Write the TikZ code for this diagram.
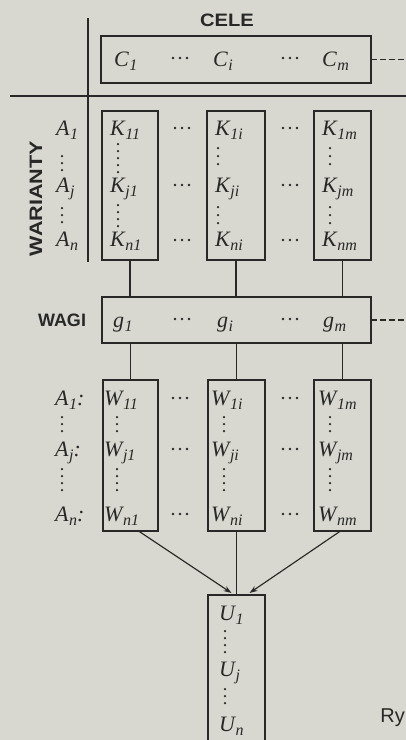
\documentclass[tikz,border=0pt]{standalone}
\usepackage{fontspec}
\usepackage{graphicx}
\setmainfont{Liberation Serif}
\newfontfamily\hfont{Liberation Sans}
\usetikzlibrary{arrows.meta,calc}
\definecolor{bg}{RGB}{216,216,208}
\definecolor{ink}{RGB}{40,40,40}
\newcommand{\ms}[2]{#1\kern0.5pt\raisebox{-4.5pt}{\fontsize{16}{16}\selectfont #2}}
\newcommand{\hdotsat}[2]{\foreach \dx in {-7,0,7}{\fill[ink] ($(#1,#2)+(\dx,0)$) circle (1.35pt);}}
\newcommand{\vdotsat}[2]{\foreach \yy in {#2}{\fill[ink] (#1,\yy) circle (1.25pt);}}
\begin{document}
\begin{tikzpicture}[x=1pt,y=-1pt,
  box/.style={draw=ink, line width=1.25pt, inner sep=0pt, outer sep=0pt},
  lbl/.style={anchor=base west, inner sep=0pt, font=\fontsize{22}{24}\selectfont\itshape, text=ink},
  hd/.style={inner sep=0pt, anchor=base, font=\hfont\bfseries\fontsize{18}{20}\selectfont, text=ink},
  conn/.style={draw=ink, line width=1.15pt},
  arr/.style={conn, -{Stealth[length=8pt,width=5.5pt]}},
  dashline/.style={draw=ink, line width=1.15pt, dash pattern=on 6pt off 3pt}]
\useasboundingbox (0,0) rectangle (406,740);
\fill[bg] (0,0) rectangle (406,740);
\begin{scope}
\clip (0,0) rectangle (406,740);
% frame lines
\coordinate (vt) at (88,18);
\coordinate (vb) at (88,262);
\coordinate (hl) at (10,96);
\coordinate (hr) at (410,96);
\coordinate (re) at (410,0);
\draw[conn] (vt) -- (vb);
\draw[conn] (hl) -- (hr);
% headers
\node[hd] (cele) at (227,26) {\scalebox{1.12}[1]{CELE}};
\node[hd] (wagi) at (62,326) {WAGI};
\node[inner sep=0pt, rotate=90, font=\hfont\bfseries\fontsize{18}{20}\selectfont, text=ink] (war) at (36,198.5) {\scalebox{1.2}[1]{WARIANTY}};
% boxes
\node[box, minimum width=270pt, minimum height=47pt] (C) at (236,59.5) {};
\node[box, minimum width=56pt, minimum height=149pt] (K1) at (130,185.5) {};
\node[box, minimum width=58pt, minimum height=149pt] (K2) at (236,185.5) {};
\node[box, minimum width=57pt, minimum height=149pt] (K3) at (342.5,185.5) {};
\node[box, minimum width=269pt, minimum height=46pt] (g) at (236.5,320) {};
\node[box, minimum width=55pt, minimum height=151pt] (W1) at (130.5,455.5) {};
\node[box, minimum width=57pt, minimum height=151pt] (W2) at (236.5,455.5) {};
\node[box, minimum width=57pt, minimum height=151pt] (W3) at (342.5,455.5) {};
\node[box, minimum width=57pt, minimum height=160pt] (U) at (236.5,675) {};
% dashed ends
\draw[dashline] (C.east) -- (C.east -| re);
\draw[dashline] (g.east) -- (g.east -| re);
% C row
\node[lbl] (c1) at (114,66) {\ms{C}{1}};
\node[lbl] (ci) at (213,66) {\ms{C}{i}};
\node[lbl] (cm) at (322,66) {\ms{C}{m}};
\hdotsat{180}{58}\hdotsat{290}{58}
% K rows
\node[lbl] (a1) at (56,135) {\ms{A}{1}};
\node[lbl] (aj) at (56,192) {\ms{A}{j}};
\node[lbl] (an) at (56,246) {\ms{A}{n}};
\vdotsat{62}{156,163,170}\vdotsat{62}{208,215,222}
\node[lbl] (k11) at (110,135) {\ms{K}{11}};
\node[lbl] (kj1) at (110,192) {\ms{K}{j1}};
\node[lbl] (kn1) at (110,246) {\ms{K}{n1}};
\node[lbl] (k1i) at (215,135) {\ms{K}{1i}};
\node[lbl] (kji) at (215,192) {\ms{K}{ji}};
\node[lbl] (kni) at (215,246) {\ms{K}{ni}};
\node[lbl] (k1m) at (322,135) {\ms{K}{1m}};
\node[lbl] (kjm) at (322,192) {\ms{K}{jm}};
\node[lbl] (knm) at (322,246) {\ms{K}{nm}};
\vdotsat{118}{144,151,158,165,172}\vdotsat{118}{205,212,219,226}
\vdotsat{218}{148,156,164}\vdotsat{218}{207,215,223}
\vdotsat{330}{148,156,164}\vdotsat{330}{207,215,223}
\foreach \yy in {128,185,240}{\hdotsat{182}{\yy}\hdotsat{290}{\yy}}
% connectors K -> g
\draw[conn] (K1.south) -- (K1.south |- g.north);
\draw[conn] (K2.south) -- (K2.south |- g.north);
\draw[conn] (K3.south) -- (K3.south |- g.north);
% g row
\node[lbl] (g1) at (113,327) {\ms{g}{1}};
\node[lbl] (gi) at (217,327) {\ms{g}{i}};
\node[lbl] (gm) at (323,327) {\ms{g}{m}};
\hdotsat{182}{319}\hdotsat{290}{319}
% connectors g -> W
\draw[conn] (W1.north |- g.south) -- (W1.north);
\draw[conn] (W2.north |- g.south) -- (W2.north);
\draw[conn] (W3.north |- g.south) -- (W3.north);
% W rows
\node[lbl] (wa1) at (55,405) {\ms{A}{1}:};
\node[lbl] (waj) at (55,456) {\ms{A}{j}:};
\node[lbl] (wan) at (55,521) {\ms{A}{n}:};
\vdotsat{62}{417,424,431}\vdotsat{62}{469,476,483,490}
\node[lbl] (w11) at (104,405) {\ms{W}{11}};
\node[lbl] (wj1) at (104,456) {\ms{W}{j1}};
\node[lbl] (wn1) at (104,521) {\ms{W}{n1}};
\node[lbl] (w1i) at (211,405) {\ms{W}{1i}};
\node[lbl] (wji) at (211,456) {\ms{W}{ji}};
\node[lbl] (wni) at (211,521) {\ms{W}{ni}};
\node[lbl] (w1m) at (318,405) {\ms{W}{1m}};
\node[lbl] (wjm) at (318,456) {\ms{W}{jm}};
\node[lbl] (wnm) at (318,521) {\ms{W}{nm}};
\vdotsat{117}{417,424,431}\vdotsat{117}{469,476,483,490}
\vdotsat{224}{417,424,431}\vdotsat{224}{469,476,483,490}
\vdotsat{330}{417,424,431}\vdotsat{330}{469,476,483,490}
\foreach \yy in {398,449,514}{\hdotsat{180}{\yy}\hdotsat{290}{\yy}}
% connectors W -> U
\draw[arr] ($(W1.south)+(8,0)$) -- ($(U.north)+(-5,-2)$);
\draw[conn] (W2.south) -- (U.north);
\draw[arr] ($(W3.south)+(-2,0)$) -- ($(U.north)+(13,-2)$);
% U column
\node[lbl] (u1) at (219,620) {\ms{U}{1}};
\node[lbl] (uj) at (219,676) {\ms{U}{j}};
\node[lbl] (un) at (219,731) {\ms{U}{n}};
\vdotsat{225}{631,638,645,652}\vdotsat{225}{689,696,703}
% caption fragment
\node[anchor=base east, inner sep=0pt, font=\hfont\fontsize{20}{22}\selectfont, text=ink] (ry) at (405,722) {Ry};
\end{scope}
\end{tikzpicture}
\end{document}
